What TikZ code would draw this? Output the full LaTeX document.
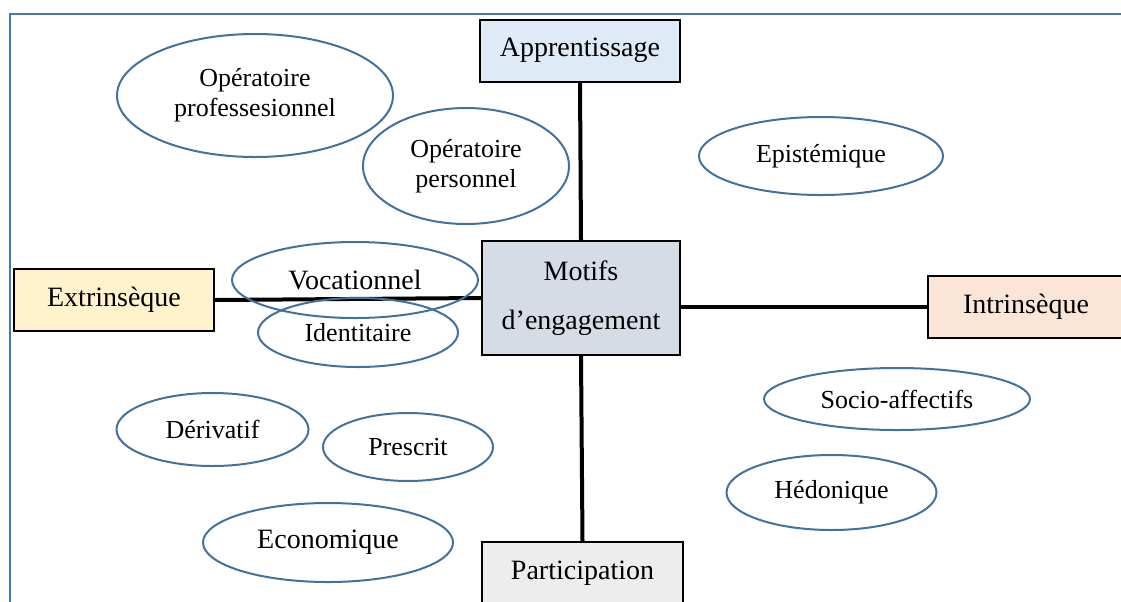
\documentclass[tikz,border=0pt]{standalone}
\usepackage{fontspec}
\setmainfont{Liberation Serif}
\usetikzlibrary{shapes.geometric}

\definecolor{frameblue}{HTML}{4A78AC}
\definecolor{ovalblue}{HTML}{41719C}
\definecolor{apprfill}{HTML}{DEEAF6}
\definecolor{motiffill}{HTML}{D6DCE5}
\definecolor{extrfill}{HTML}{FFF2CC}
\definecolor{intrfill}{HTML}{FBE5D6}
\definecolor{partfill}{HTML}{EDEDED}

\tikzset{
  pole/.style={draw=black, line width=1.5pt, inner sep=0pt, minimum width=150pt, minimum height=46.5pt, font=\fontsize{21}{25}\selectfont},
  motif/.style={ellipse, draw=ovalblue, line width=1.5pt, inner sep=0pt, align=center, font=\fontsize{19.5}{22.5}\selectfont},
  bigmotif/.style={motif, font=\fontsize{21}{25}\selectfont},
  axis/.style={line width=3pt, black},
}

\begin{document}
\begin{tikzpicture}[x=0.75pt,y=0.75pt,yscale=-1,xscale=1]
\useasboundingbox (0,0) rectangle (1121,601);
\clip (0,0) rectangle (1121,601);

% frame
\draw [frameblue, line width=1.5pt] (10,14) rectangle (1140,620);

% poles
\node [pole, fill=apprfill] (appr) at (580,50.5) {Apprentissage};
\node [pole, fill=motiffill, minimum width=148.5pt, minimum height=85.5pt, align=center] (motifs) at (581,298) {Motifs\\[12pt]d’engagement};
\node [pole, fill=extrfill] (extr) at (114,300) {Extrinsèque};
\node [pole, fill=intrfill, minimum width=147pt] (intr) at (1026,307) {Intrinsèque};
\node [pole, fill=partfill, minimum width=150.75pt] (part) at (582.5,573) {Participation};

% axes
\draw [axis] (appr.south) -- (motifs.north);
\draw [axis] (motifs.south) -- (part.north);
\draw [axis] (extr.east) -- (motifs.west);
\draw [axis] (motifs.east |- intr.west) -- (intr.west);

% motifs, upper left
\node [motif, minimum width=207pt, minimum height=92.25pt] (oppro) at (255,95.5) {Opératoire\\professesionnel};
\node [motif, minimum width=154.5pt, minimum height=87pt] (opperso) at (466,166) {Opératoire\\personnel};
\node [motif, minimum width=183pt, minimum height=58.5pt] (episte) at (821,156) {Epistémique};

% motifs, on the axis
\node [bigmotif, minimum width=184.5pt, minimum height=57pt] (vocation) at (355,280) {Vocationnel};
\node [motif, minimum width=150pt, minimum height=51.75pt] (identit) at (358,332.5) {Identitaire};

% motifs, lower part
\node [motif, minimum width=199.5pt, minimum height=46.5pt] (socio) at (897,399) {Socio-affectifs};
\node [motif, minimum width=157.5pt, minimum height=56.25pt] (hedon) at (831.5,492.5) {Hédonique};
\node [motif, minimum width=144pt, minimum height=54.75pt] (derivat) at (212.5,429.5) {Dérivatif};
\node [motif, minimum width=127.5pt, minimum height=51pt] (prescrit) at (408,447) {Prescrit};
\node [bigmotif, minimum width=187.5pt, minimum height=59.25pt] (econom) at (328,542.5) {Economique};

\end{tikzpicture}
\end{document}
